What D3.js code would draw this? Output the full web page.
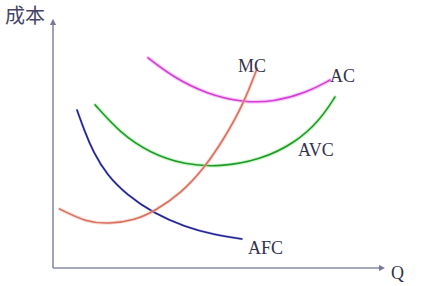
<!DOCTYPE html>
<html>
<head>
<meta charset="utf-8">
<script src="https://cdn.jsdelivr.net/npm/d3@7"></script>
<style>
  body { margin: 0; background: #fff; }
</style>
</head>
<body>
<div id="chart"></div>
<script>
// curves, Q and cost in 0..100 units
var mcQ  = [2, 10, 17, 25, 31, 39, 46, 52, 58, 62]
var mcC  = [24, 18.7, 17.9, 19.5, 23.2, 30.5, 40.7, 52.5, 67, 81]
var afcQ = [7.3, 9.7, 12.2, 16.4, 22.5, 30.4, 40.1, 49.2, 57.4]
var afcC = [64.2, 55.3, 47.2, 37.8, 29.7, 22.4, 16.7, 13.4, 11.8]
var avcQ = [12.8, 20.4, 29.5, 40.1, 50.8, 62.9, 73.6, 81.2, 85.7]
var avcC = [66.3, 54.9, 46.7, 41.9, 41.1, 43.9, 50.8, 60.2, 69.5]
var acQ  = [28.9, 36.5, 46.8, 57.8, 66.9, 77.2, 84.2]
var acC  = [85.4, 77.6, 70.7, 67.3, 67.5, 71.3, 76.4]
var labels = ['MC', 'AC', 'AVC', 'AFC']

var w = 422, h = 286

var svg = d3.select('#chart').append('svg').attr('width', w).attr('height', h)
svg.append('rect').attr('width', w).attr('height', h).attr('fill', '#fff')

var x = d3.scaleLinear().domain([0, 100]).range([53, 382])
var y = d3.scaleLinear().domain([0, 100]).range([268, 22])

// axes with arrow heads
svg.append('defs').append('marker')
  .attr('id', 'arr').attr('viewBox', '0 0 10 10').attr('refX', 5).attr('refY', 5)
  .attr('markerWidth', 4).attr('markerHeight', 4).attr('orient', 'auto')
  .append('path').attr('d', 'M0,0L10,5L0,10z').attr('fill', '#7a7a98')

svg.append('line').attr('x1', x(0)).attr('y1', y(0)).attr('x2', x(0)).attr('y2', y(100))
  .attr('stroke', '#8a8aa4').attr('stroke-width', 1.6).attr('marker-end', 'url(#arr)')
svg.append('line').attr('x1', x(0)).attr('y1', y(0)).attr('x2', x(100)).attr('y2', y(0))
  .attr('stroke', '#8a8aa4').attr('stroke-width', 1.6).attr('marker-end', 'url(#arr)')

var line = d3.line().x(function(d){ return x(d[0]) }).y(function(d){ return y(d[1]) })
  .curve(d3.curveBasis)

function curve(qs, cs, glow, col, gw) {
  var pts = d3.zip(qs, cs)
  svg.append('path').attr('d', line(pts)).attr('fill', 'none')
    .attr('stroke', glow).attr('stroke-width', gw).attr('stroke-opacity', 0.5).attr('stroke-linecap', 'round')
  svg.append('path').attr('d', line(pts)).attr('fill', 'none')
    .attr('stroke', col).attr('stroke-width', 1.6).attr('stroke-linecap', 'round')
}

curve(acQ, acC, '#f2a0f2', '#d43cd4', 4)
curve(avcQ, avcC, '#a8f0a0', '#1f9a2a', 4)
curve(afcQ, afcC, '#9090e0', '#23238f', 2.5)
curve(mcQ, mcC, '#f6b8b0', '#d8705e', 3.5)

var lx = [56.2, 84.2, 74.5, 59.3]
var ly = [79.5, 75.5, 45.5, 5.5]
svg.selectAll('text.lab').data(labels).enter().append('text')
  .attr('class', 'lab')
  .attr('x', function(d, i){ return x(lx[i]) })
  .attr('y', function(d, i){ return y(ly[i]) })
  .attr('font-family', 'Liberation Serif, serif').attr('font-size', 18)
  .attr('fill', '#33334d').text(function(d){ return d })

svg.append('text').attr('x', 391).attr('y', 279)
  .attr('font-family', 'Liberation Serif, serif').attr('font-size', 18)
  .attr('fill', '#33334d').text('Q')

svg.append('text').attr('x', 5).attr('y', 23)
  .attr('font-family', 'Noto Sans CJK SC').attr('font-size', 20)
  .attr('fill', '#45456a').text('成本')
</script>
</body>
</html>
